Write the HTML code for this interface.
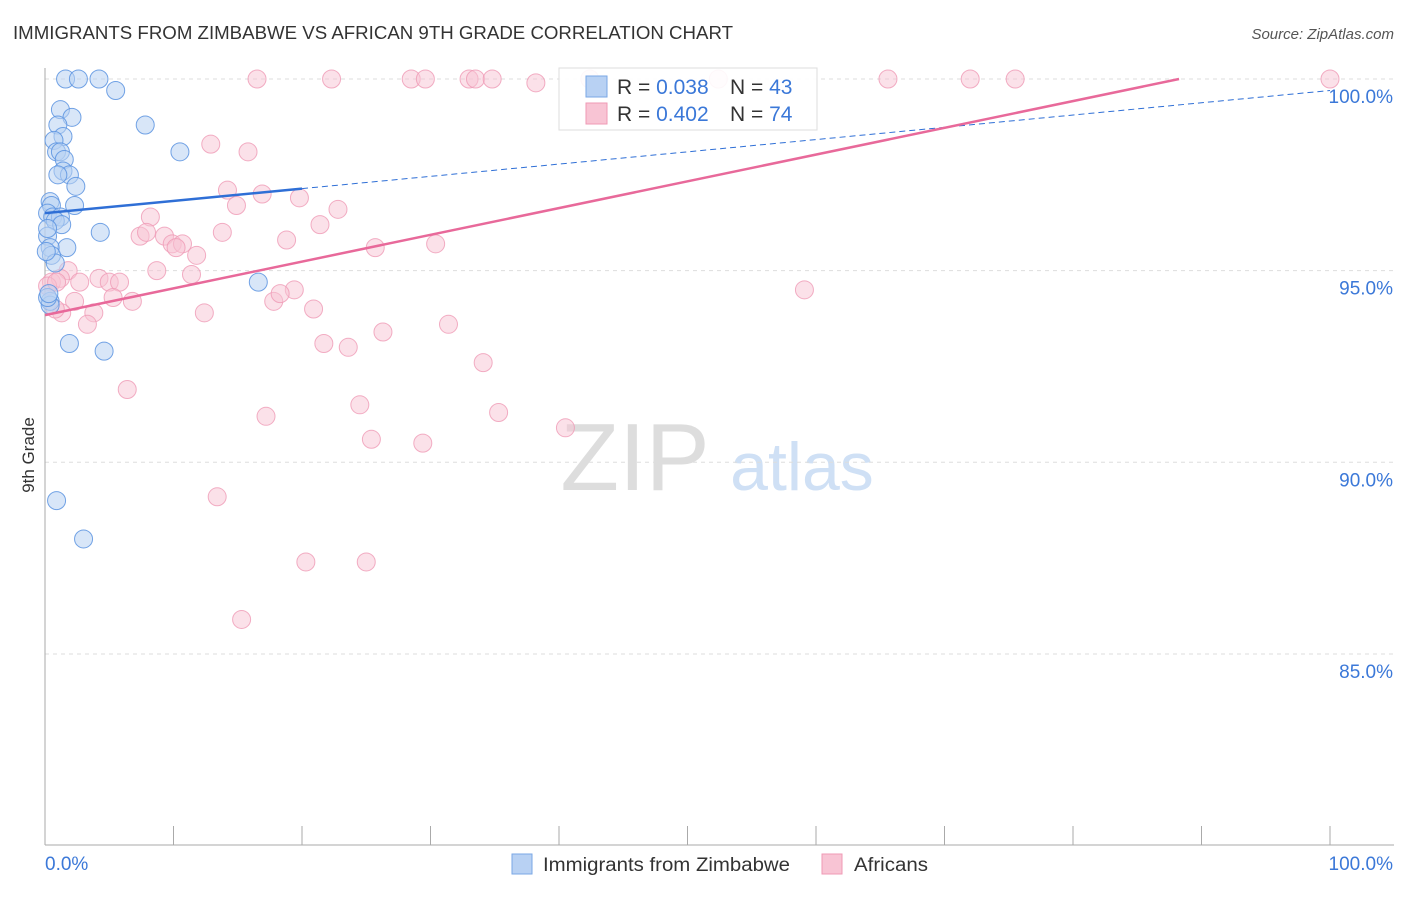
<!DOCTYPE html>
<html><head><meta charset="utf-8"><style>
body{margin:0;background:#fff;font-family:"Liberation Sans",sans-serif}
svg text{font-family:"Liberation Sans",sans-serif}
</style></head><body>
<svg id="c" width="1406" height="892" xmlns="http://www.w3.org/2000/svg">
<text x="13" y="39" font-size="18" fill="#333" textLength="720" lengthAdjust="spacingAndGlyphs">IMMIGRANTS FROM ZIMBABWE VS AFRICAN 9TH GRADE CORRELATION CHART</text>
<text x="1394" y="39" font-size="15" fill="#555" text-anchor="end" font-style="italic">Source: ZipAtlas.com</text>
<text x="34" y="455" font-size="17" fill="#333" text-anchor="middle" transform="rotate(-90 34 455)">9th Grade</text>
<g id="wm">
<text x="635" y="490" font-size="96" fill="#ddd" text-anchor="middle" font-family="Liberation Serif,serif">ZIP</text>
<text x="802" y="490" font-size="68" fill="#cfe0f5" text-anchor="middle">atlas</text>
</g>
<g id="grid"></g><g id="axes"></g><g id="pts"></g><g id="lines"></g>
<g>
<rect x="559" y="68" width="258" height="62" fill="#fff" fill-opacity="0.9" stroke="#ddd"/>
<rect x="586" y="76" width="21" height="21" fill="#b8d1f3" stroke="#7aa7e6"/>
<rect x="586" y="103" width="21" height="21" fill="#f8c4d4" stroke="#ef9ab5"/>
<text x="617" y="94" font-size="21" fill="#333">R = <tspan fill="#3b78d8">0.038</tspan></text>
<text x="730" y="94" font-size="21" fill="#333">N = <tspan fill="#3b78d8">43</tspan></text>
<text x="617" y="121" font-size="21" fill="#333">R = <tspan fill="#3b78d8">0.402</tspan></text>
<text x="730" y="121" font-size="21" fill="#333">N = <tspan fill="#3b78d8">74</tspan></text>
</g>
<g>
<rect x="512" y="854" width="20" height="20" fill="#b8d1f3" stroke="#7aa7e6"/>
<text x="543" y="871" font-size="19" fill="#333" textLength="247" lengthAdjust="spacingAndGlyphs">Immigrants from Zimbabwe</text>
<rect x="822" y="854" width="20" height="20" fill="#f8c4d4" stroke="#ef9ab5"/>
<text x="854" y="871" font-size="19" fill="#333" textLength="74" lengthAdjust="spacingAndGlyphs">Africans</text>
</g>
</svg>
<script>
const yTicks=[100,95,90,85];
const yTickLabels=["100.0%","95.0%","90.0%","85.0%"];
const blueX=[1.6,2.6,4.2,5.5,1.2,2.1,1.0,1.4,0.7,0.9,1.2,1.5,1.4,1.9,1.0,2.4,0.4,2.3,0.5,0.2,0.6,1.2,0.8,1.3,4.3,1.7,0.2,0.4,0.5,0.8,7.8,10.5,16.6,1.9,4.6,0.9,3.0,0.4,0.4,0.2,0.1,0.2,0.3];
const blueY=[100,100,100,99.7,99.2,99.0,98.8,98.5,98.4,98.1,98.1,97.9,97.6,97.5,97.5,97.2,96.8,96.7,96.7,96.5,96.4,96.4,96.3,96.2,96.0,95.6,95.9,95.6,95.4,95.2,98.8,98.1,94.7,93.1,92.9,89.0,88.0,94.2,94.1,94.3,95.5,96.1,94.4];
const pinkX=[16.5,22.3,28.5,29.6,33.0,33.5,34.8,38.2,42.4,52.4,65.6,72.0,75.5,100,12.9,15.8,14.2,16.9,14.9,19.8,8.2,22.8,21.4,7.4,7.9,9.3,9.9,10.7,10.2,11.8,13.8,18.8,25.7,30.4,8.7,11.4,1.8,4.2,5.0,5.8,0.5,1.2,2.7,2.3,5.3,6.8,17.8,19.4,18.3,20.9,12.4,3.8,1.3,3.3,21.7,23.6,26.3,31.4,34.1,6.4,17.2,24.5,35.3,40.5,25.4,29.4,13.4,20.3,25.0,15.3,59.1,0.2,0.9,0.8];
const pinkY=[100,100,100,100,100,100,100,99.9,100,100,100,100,100,100,98.3,98.1,97.1,97.0,96.7,96.9,96.4,96.6,96.2,95.9,96.0,95.9,95.7,95.7,95.6,95.4,96.0,95.8,95.6,95.7,95.0,94.9,95.0,94.8,94.7,94.7,94.7,94.8,94.7,94.2,94.3,94.2,94.2,94.5,94.4,94.0,93.9,93.9,93.9,93.6,93.1,93.0,93.4,93.6,92.6,91.9,91.2,91.5,91.3,90.9,90.6,90.5,89.1,87.4,87.4,85.9,94.5,94.6,94.7,94.0];
const blueFit=[96.5,0.032];
const pinkFit=[93.84,0.0698];
const NS="http://www.w3.org/2000/svg";
const X=v=>45+v*12.85, Y=v=>79+(100-v)*38.33;
function mk(t,a,p){const e=document.createElementNS(NS,t);for(const k in a)e.setAttribute(k,a[k]);document.getElementById(p).appendChild(e);return e;}
yTicks.forEach((t,i)=>{
 let g=mk('line',{x1:45,x2:1394,y1:Y(t),y2:Y(t),stroke:'#ddd','stroke-dasharray':'4,4'},'grid');
 
 
 let l=mk('text',{x:1393,y:Y(t)+24,'font-size':19,fill:'#3b78d8','text-anchor':'end'},'axes');l.textContent=yTickLabels[i];
 
 
});
let ax=mk('line',{x1:45,x2:45,y1:68,y2:845,stroke:'#aaa'},'axes');


let bx=mk('line',{x1:45,x2:1394,y1:845,y2:845,stroke:'#aaa'},'axes');


for(let i=0;i<=10;i++){let t=mk('line',{x1:X(i*10),x2:X(i*10),y1:826,y2:845,stroke:'#aaa'},'axes');
 
 }
let x0=mk('text',{x:45,y:870,'font-size':19,fill:'#3b78d8'},'axes');x0.textContent='0.0%';


let x1=mk('text',{x:1393,y:870,'font-size':19,fill:'#3b78d8','text-anchor':'end'},'axes');x1.textContent='100.0%';


pinkX.forEach((v,i)=>{let c=mk('circle',{cx:X(v),cy:Y(pinkY[i]),r:9,fill:'#f8c4d4','fill-opacity':0.5,stroke:'#ef9ab5','stroke-width':1,'stroke-opacity':0.8},'pts');
 
 });
blueX.forEach((v,i)=>{let c=mk('circle',{cx:X(v),cy:Y(blueY[i]),r:9,fill:'#b8d1f3','fill-opacity':0.55,stroke:'#5a93e0','stroke-width':1,'stroke-opacity':0.85},'pts');
 
 });
let b1=mk('line',{x1:X(0),y1:Y(blueFit[0]),x2:X(20),y2:Y(blueFit[0]+20*blueFit[1]),stroke:'#2f6fd6','stroke-width':2.5},'lines');


let b2=mk('line',{x1:X(20),y1:Y(blueFit[0]+20*blueFit[1]),x2:X(100),y2:Y(blueFit[0]+100*blueFit[1]),stroke:'#2f6fd6','stroke-width':1,'stroke-dasharray':'6,4'},'lines');


const pEnd=(100-pinkFit[0])/pinkFit[1];
let p1=mk('line',{x1:X(0),y1:Y(pinkFit[0]),x2:X(pEnd),y2:Y(100),stroke:'#e8699a','stroke-width':2.5},'lines');


</script>
</body></html>
